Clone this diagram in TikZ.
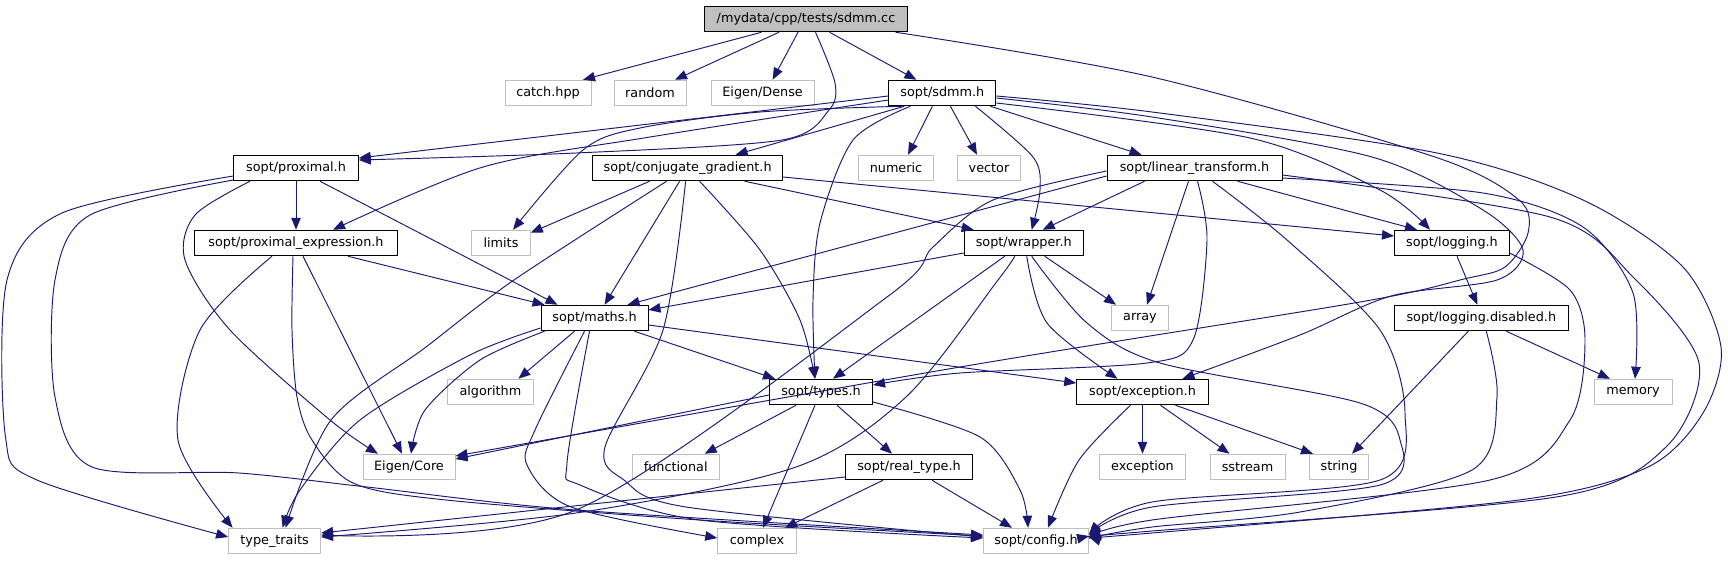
\documentclass[tikz,border=0pt]{standalone}
\usepackage{fontspec}
\newfontfamily\dvs{DejaVu Sans}
\usetikzlibrary{arrows.meta}
\definecolor{edgeblue}{HTML}{191970}
\definecolor{gsf}{HTML}{BFBFBF}
\begin{document}
\begin{tikzpicture}[x=1pt,y=-1pt,
  base/.style={rectangle, minimum height=25.5pt, inner xsep=0pt, inner ysep=0pt, font=\dvs\fontsize{12.8}{15}\selectfont, line width=1pt},
  doc/.style={base, draw=black, fill=white},
  ext/.style={base, draw=gsf, fill=white},
  rootn/.style={base, draw=black, fill=gsf},
  e/.style={draw=edgeblue, line width=0.95pt, -{Triangle[length=12pt,width=9.5pt]}}]
\useasboundingbox (0,0) rectangle (1728,560);
% nodes
\node[rootn, minimum width=203pt] (R) at (806,19) {/mydata/cpp/tests/sdmm.cc};
\node[ext, minimum width=86pt] (catch) at (548,93) {catch.hpp};
\node[ext, minimum width=72pt] (random) at (650,93) {random};
\node[ext, minimum width=103pt] (dense) at (762.6,93) {Eigen/Dense};
\node[doc, minimum width=107pt] (sdmmh) at (942.4,93) {sopt/sdmm.h};
\node[doc, minimum width=124.5pt] (prox) at (296,168) {sopt/proximal.h};
\node[doc, minimum width=190pt] (cg) at (687.6,168) {sopt/conjugate\_gradient.h};
\node[ext, minimum width=75pt] (numeric) at (896,168) {numeric};
\node[ext, minimum width=63pt] (vector) at (989,168) {vector};
\node[doc, minimum width=175pt] (lt) at (1194.5,168) {sopt/linear\_transform.h};
\node[doc, minimum width=203pt] (pe) at (296,243) {sopt/proximal\_expression.h};
\node[ext, minimum width=58.5pt] (limits) at (501,243) {limits};
\node[doc, minimum width=119pt] (wrap) at (1023.7,243) {sopt/wrapper.h};
\node[doc, minimum width=115pt] (logg) at (1452,243) {sopt/logging.h};
\node[doc, minimum width=107pt] (maths) at (594.5,318) {sopt/maths.h};
\node[ext, minimum width=57pt] (array) at (1140,318) {array};
\node[doc, minimum width=174pt] (logd) at (1481.3,318) {sopt/logging.disabled.h};
\node[ext, minimum width=85.6pt] (algo) at (490.4,392) {algorithm};
\node[doc, minimum width=103pt] (types) at (821,392) {sopt/types.h};
\node[doc, minimum width=131.6pt] (exch) at (1142.5,392) {sopt/exception.h};
\node[ext, minimum width=78pt] (memory) at (1633,392) {memory};
\node[ext, minimum width=92pt] (core) at (409,467) {Eigen/Core};
\node[ext, minimum width=87pt] (func) at (675.7,467) {functional};
\node[doc, minimum width=127pt] (real) at (909,467) {sopt/real\_type.h};
\node[ext, minimum width=86pt] (excstd) at (1142.5,467) {exception};
\node[ext, minimum width=75pt] (sstream) at (1247.5,467) {sstream};
\node[ext, minimum width=59pt] (string) at (1339,467) {string};
\node[ext, minimum width=92pt] (tt) at (274.6,541) {type\_traits};
\node[ext, minimum width=78.5pt] (complex) at (757,541) {complex};
\node[ext, minimum width=105pt] (config) at (1036,541) {sopt/config.h};
% edges from root
\draw[e] ([xshift=-44.5]R.south) -- ([xshift=35]catch.north);
\draw[e] ([xshift=-27]R.south) -- ([xshift=25]random.north);
\draw[e] ([xshift=-8]R.south) -- ([xshift=10]dense.north);
\draw[e] ([xshift=23.5]R.south) -- ([xshift=-26]sdmmh.north);
\draw[e] plot[smooth] coordinates {([xshift=9.5]R.south) (835,83) (829,110) (782,140) (576,153) ([yshift=8]prox.east)};
\draw[e] plot[smooth] coordinates {([xshift=89.6]R.south) (1152,77) (1435,157) (1519,200) (1528,233) (1505,267) (1464,279) (1360,302) (960,367) ([yshift=11]core.east)};
% sdmm.h
\draw[e] ([yshift=-3]sdmmh.west) -- ([yshift=10]prox.east);
\draw[e] plot[smooth] coordinates {([yshift=-7]sdmmh.west) (650,137) (483,167) ([xshift=37]pe.north)};
\draw[e] plot[smooth] coordinates {([xshift=-40]sdmmh.south) (760,112) (640,128) (583,150) ([xshift=12]limits.north)};
\draw[e] ([xshift=-38]sdmmh.south) -- ([xshift=48]cg.north);
\draw[e] plot[smooth] coordinates {([xshift=-32]sdmmh.south) (853,140) (820,223) (813,300) ([xshift=-6]types.north)};
\draw[e] ([xshift=-10]sdmmh.south) -- ([xshift=12]numeric.north);
\draw[e] ([xshift=8]sdmmh.south) -- ([xshift=-12]vector.north);
\draw[e] plot[smooth] coordinates {([xshift=33]sdmmh.south) (1033,157) (1040,190) ([xshift=8]wrap.north)};
\draw[e] ([xshift=48]sdmmh.south) -- ([xshift=-53]lt.north);
\draw[e] plot[smooth] coordinates {([yshift=-10]sdmmh.east) (1250,138) (1380,190) ([xshift=-22]logg.north)};
\draw[e] plot[smooth] coordinates {([yshift=-5]sdmmh.east) (1152,117) (1372,157) (1483,210) (1523,250) (1497,280) (1391,296) (1300,335) ([xshift=40]exch.north)};
\draw[e] plot[smooth] coordinates {([yshift=-3]sdmmh.east) (1152,112) (1437,153) (1583,200) (1683,267) (1721,347) (1703,413) (1648,467) (1519,500) (1152,533) ([yshift=4]config.east)};
% conjugate_gradient
\draw[e] ([xshift=-38]cg.south) -- ([yshift=-3]limits.north east);
\draw[e] plot[smooth] coordinates {([xshift=-21]cg.south) (514,280) (426,347) (331,420) ([xshift=11]tt.north)};
\draw[e] ([xshift=-8]cg.south) -- ([xshift=10]maths.north);
\draw[e] plot[smooth] coordinates {([xshift=-2]cg.south) (663,330) (605,447) (624,480) (686,507) ([yshift=4]config.west)};
\draw[e] plot[smooth] coordinates {([xshift=12]cg.south) (760,250) (800,320) ([xshift=-6]types.north)};
\draw[e] ([xshift=57]cg.south) -- ([xshift=-50]wrap.north);
\draw[e] ([yshift=-9]cg.east) -- ([yshift=7]logg.west);
% linear_transform
\draw[e] ([yshift=-8]lt.west) -- ([xshift=33]maths.north);
\draw[e] plot[smooth] coordinates {([yshift=-3]lt.west) (993,200) (933,247) (887,297) (576,510) ([yshift=6]tt.east)};
\draw[e] ([xshift=-50]lt.south) -- ([xshift=19]wrap.north);
\draw[e] ([xshift=-6]lt.south) -- ([xshift=7]array.north);
\draw[e] plot[smooth] coordinates {([xshift=3]lt.south) (1207,240) (1193,340) (1147,363) (960,373) ([yshift=7]types.east)};
\draw[e] plot[smooth] coordinates {([xshift=18]lt.south) (1287,240) (1380,330) (1405,413) (1380,480) (1152,502) ([yshift=7]config.east)};
\draw[e] ([xshift=43]lt.south) -- ([xshift=-35]logg.north);
\draw[e] plot[smooth] coordinates {([yshift=-10]lt.east) (1483,193) (1583,227) (1633,293) ([xshift=2]memory.north)};
\draw[e] plot[smooth] coordinates {([yshift=-7]lt.east) (1550,217) (1633,277) (1699,363) (1666,447) (1556,497) (1152,531) ([yshift=5]config.east)};
% logging
\draw[e] ([xshift=5]logg.south) -- ([xshift=-4]logd.north);
\draw[e] plot[smooth] coordinates {([yshift=3]logg.south east) (1570,290) (1585,340) (1570,420) (1490,480) (1152,520) ([yshift=2]config.east)};
\draw[e] ([xshift=25]logd.south) -- ([xshift=-23]memory.north);
\draw[e] ([xshift=-13]logd.south) -- ([xshift=13]string.north);
\draw[e] plot[smooth] coordinates {([xshift=5]logd.south) (1497,397) (1472,470) (1300,512) (1152,527) ([yshift=3]config.east)};
% wrapper
\draw[e] ([yshift=-10]wrap.west) -- ([yshift=8]maths.east);
\draw[e] ([xshift=-19]wrap.south) -- ([xshift=12]types.north);
\draw[e] plot[smooth] coordinates {([xshift=-9]wrap.south) (998,280) (906,397) (796,467) (576,513) ([yshift=4]tt.east)};
\draw[e] plot[smooth] coordinates {([xshift=3]wrap.south) (1047,323) ([xshift=-25]exch.north)};
\draw[e] plot[smooth] coordinates {([xshift=8]wrap.south) (1087,323) (1160,363) (1360,403) (1400,440) (1380,485) (1152,507) ([yshift=6]config.east)};
\draw[e] ([xshift=21]wrap.south) -- ([xshift=-24]array.north);
% maths
\draw[e] ([xshift=-20]maths.south) -- ([xshift=28]algo.north);
\draw[e] plot[smooth] coordinates {([xshift=-50]maths.south) (480,360) (425,410) ([xshift=2]core.north)};
\draw[e] plot[smooth] coordinates {([yshift=-10]maths.west) (470,355) (360,420) (300,490) ([xshift=8]tt.north)};
\draw[e] plot[smooth] coordinates {([xshift=-10]maths.south) (535,430) (527,465) (571,507) ([yshift=3]complex.west)};
\draw[e] plot[smooth] coordinates {([xshift=-5]maths.south) (567,463) (580,485) (700,520) ([yshift=3]config.west)};
\draw[e] ([xshift=40]maths.south) -- ([xshift=-46]types.north);
\draw[e] ([yshift=-7]maths.east) -- ([yshift=9]exch.west);
% types
\draw[e] ([yshift=-3]types.west) -- ([yshift=8]core.east);
\draw[e] ([xshift=-25]types.south) -- ([xshift=29]func.north);
\draw[e] ([xshift=-6]types.south) -- ([xshift=6]complex.north);
\draw[e] ([xshift=16]types.south) -- ([xshift=-17]real.north);
\draw[e] plot[smooth] coordinates {([yshift=-10]types.east) (980,437) (1020,490) ([xshift=-8]config.north)};
% real_type
\draw[e] ([yshift=-10]real.west) -- ([yshift=8]tt.east);
\draw[e] ([xshift=-26]real.south) -- ([xshift=28]complex.north);
\draw[e] ([xshift=23]real.south) -- ([xshift=-24]config.north);
% exception
\draw[e] plot[smooth] coordinates {([xshift=-12]exch.south) (1079,460) ([xshift=12]config.north)};
\draw[e] (exch) -- (excstd);
\draw[e] ([xshift=18]exch.south) -- ([xshift=-18]sstream.north);
\draw[e] ([xshift=33]exch.south) -- ([xshift=-26]string.north);
% proximal
\draw[e] (prox) -- (pe);
\draw[e] ([xshift=24]prox.south) -- ([xshift=-37]maths.north);
\draw[e] plot[smooth] coordinates {([xshift=-46]prox.south) (195,215) (185,260) (230,330) (330,420) ([xshift=-31]core.north)};
\draw[e] plot[smooth] coordinates {([yshift=-8]prox.west) (62,213) (7,280) (5.5,437) (37,480) ([yshift=4]tt.west)};
\draw[e] plot[smooth] coordinates {([yshift=-12]prox.west) (90,215) (55,280) (55,397) (92,467) (239,473) (367,487) (576,510) ([yshift=6]config.west)};
% proximal_expression
\draw[e] plot[smooth] coordinates {([xshift=-24]pe.south) (200,330) (178,440) ([xshift=-42]tt.north)};
\draw[e] plot[smooth] coordinates {([xshift=-3]pe.south) (292,330) (297,397) (312,440) (353,483) (446,500) (700,520) ([yshift=5]config.west)};
\draw[e] ([xshift=7]pe.south) -- ([xshift=-7]core.north);
\draw[e] ([xshift=52]pe.south) -- ([xshift=-50]maths.north);
\end{tikzpicture}
\end{document}
